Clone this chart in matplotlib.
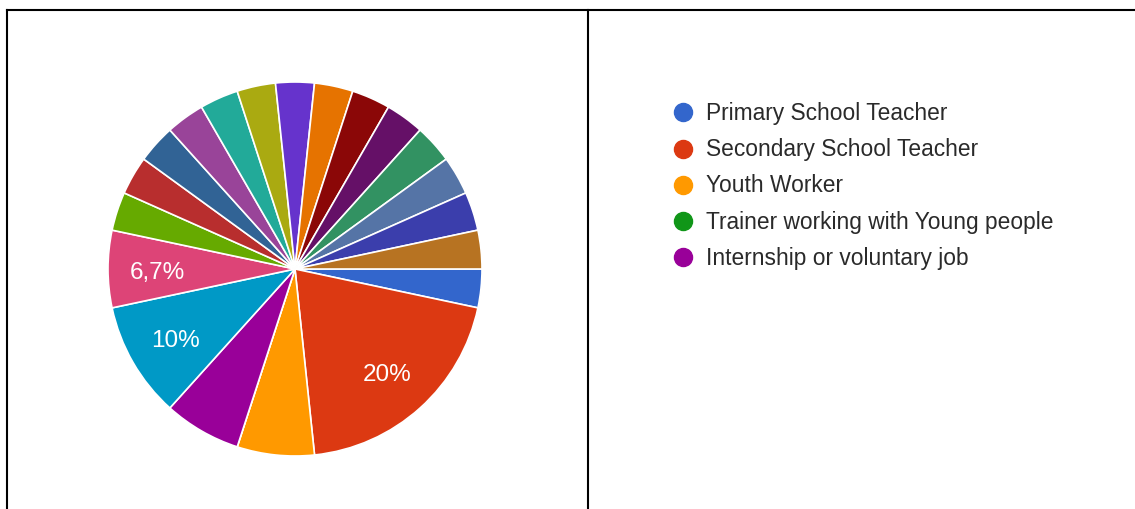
import matplotlib.pyplot as plt
import numpy as np
from matplotlib.lines import Line2D

# answers (out of 30 responses), Google Forms palette order
categories = ['Primary School Teacher', 'Secondary School Teacher', 'Youth Worker',
              'Trainer working with Young people', 'Internship or voluntary job',
              'Other 1', 'Other 2', 'Other 3', 'Other 4', 'Other 5', 'Other 6',
              'Other 7', 'Other 8', 'Other 9', 'Other 10', 'Other 11', 'Other 12',
              'Other 13', 'Other 14', 'Other 15', 'Other 16']
legend_labels = categories[:5]  # only the first legend page is visible
counts = [1, 6, 2, 0, 2, 3, 2, 1, 1, 1, 1, 1, 1, 1, 1, 1, 1, 1, 1, 1, 1]
colors = ['#3366cc', '#dc3912', '#ff9900', '#109618', '#990099', '#0099c6',
          '#dd4477', '#66aa00', '#b82e2e', '#316395', '#994499', '#22aa99',
          '#aaaa11', '#6633cc', '#e67300', '#8b0707', '#651067', '#329262',
          '#5574a6', '#3b3eac', '#b77322']
labelled = [1, 5, 6]  # slices big enough to carry their percentage

plt.rcParams['font.family'] = ['Liberation Sans', 'DejaVu Sans']

W, H = 1135, 510
fig = plt.figure(figsize=(W / 100, H / 100), dpi=100)


def pct_text(v):
    p = round(100 * v / sum(counts), 1)
    s = ('%.1f' % p).rstrip('0').rstrip('.')
    return s.replace('.', ',') + '%'


# pie centred at (295, 270) px, radius 187 px
cx, cy, r = 295, 270, 187
ax = fig.add_axes([(cx - r) / W, (H - cy - r) / H, 2 * r / W, 2 * r / H])
wedges, _ = ax.pie(counts, colors=colors, startangle=0, counterclock=False,
                   radius=1, wedgeprops=dict(edgecolor='white', linewidth=1.2))
total = sum(counts)
theta = 0.0
for i, v in enumerate(counts):
    mid = theta - 360 * v / total / 2
    if i in labelled:
        a = np.deg2rad(mid)
        ax.text(0.735 * np.cos(a), 0.735 * np.sin(a), pct_text(v), color='white',
                fontsize=17.5, ha='center', va='center_baseline')
    theta -= 360 * v / total
ax.set_xlim(-1, 1)
ax.set_ylim(-1, 1)
ax.set_aspect('equal')
ax.axis('off')

# legend drawn by hand in a pixel-scaled axes
lx0, ly0 = 650, 90
lw, lh = 480, 190
lax = fig.add_axes([lx0 / W, (H - ly0 - lh) / H, lw / W, lh / H])
lax.set_xlim(0, lw)
lax.set_ylim(lh, 0)
lax.axis('off')
for i, name in enumerate(legend_labels):
    y = 23.3 + i * 36.25
    lax.plot([33.3], [y], 'o', color=colors[i], markersize=13)
    lax.text(56.5, y, name, color='#2a2a2a', fontsize=16.4, va='center', ha='left')

# table borders
lc = dict(color='black', linewidth=1.5, transform=None)
fig.add_artist(Line2D([6.5, W], [H - 10.7, H - 10.7], **lc))
fig.add_artist(Line2D([6.5, 6.5], [H - 10.7, 0], **lc))
fig.add_artist(Line2D([587.7, 587.7], [H - 10.7, 0], **lc))

fig.savefig('out.png', dpi=100)
